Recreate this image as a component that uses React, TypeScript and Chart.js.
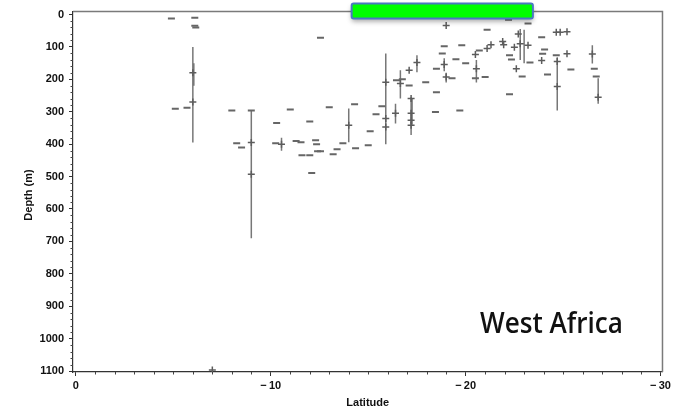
import React, { useEffect, useRef } from 'react';
import { Chart, registerables } from 'chart.js';

Chart.register(...registerables);

// Horizontal dash markers (latitude, depth m)
const dashLat = [-4.9, -6.1, -6.1, -6.15, -5.1, -5.7, -8.0, -8.25, -8.5, -10.3, -10.25, -11.0, -11.3, -11.55, -11.6, -12.0, -12.0, -12.1, -12.3, -12.35, -12.4, -12.55, -12.55, -13.0, -13.2, -13.4, -13.7, -14.3, -14.35, -15.0, -15.1, -15.4, -15.7, -16.45, -16.75, -17.1, -17.95, -18.5, -18.45, -19.7, -18.9, -19.8, -18.8, -19.5, -18.5, -19.3, -20.0, -20.5, -20.7, -21.0, -21.1, -22.2, -23.2, -23.9, -22.25, -22.35, -23.3, -22.9, -22.25, -23.95, -24.05, -24.2, -24.65, -25.4, -26.6, -26.7, -9.0];
const dashDepth = [12, 10, 35, 40, 291, 288, 296, 397, 410, 335, 397, 293, 390, 394, 434, 330, 434, 489, 388, 400, 422, 422, 72, 286, 431, 416, 397, 277, 413, 403, 360, 308, 283, 203, 200, 219, 209, 240, 301, 296, 98, 95, 120, 138, 167, 197, 150, 197, 111, 193, 47, 16, 28, 70, 126, 139, 148, 191, 246, 121, 108, 185, 126, 170, 167, 191, 296];

// "+" markers (latitude, depth m)
const crossLat = [-6.0, -6.0, -9.0, -9.0, -7.0, -10.55, -14.0, -15.9, -15.9, -15.9, -16.4, -16.65, -17.1, -17.2, -17.2, -17.2, -17.2, -17.5, -19.0, -18.9, -19.0, -20.5, -20.55, -21.1, -21.3, -21.9, -21.95, -22.6, -22.5, -22.8, -22.7, -23.2, -23.9, -24.65, -24.85, -25.2, -24.7, -24.7, -25.2, -26.5, -26.8];
const crossDepth = [180, 270, 395, 493, 1097, 400, 342, 209, 321, 347, 305, 213, 172, 259, 305, 326, 342, 148, 34, 154, 193, 123, 167, 105, 93, 83, 93, 167, 101, 90, 60, 95, 142, 55, 55, 53, 145, 222, 121, 122, 255];

// Vertical error bars (latitude, shallow end, deep end)
const barLat = [-6.0, -6.0, -6.05, -9.0, -10.55, -14.0, -15.9, -16.4, -16.65, -17.2, -17.25, -17.5, -18.9, -19.0, -20.55, -22.8, -23.0, -24.7, -26.5, -26.8];
const barLow = [100, 140, 150, 296, 380, 290, 120, 275, 172, 255, 260, 126, 135, 180, 140, 45, 47, 132, 95, 197];
const barHigh = [395, 230, 220, 690, 420, 394, 400, 336, 259, 372, 340, 178, 175, 210, 210, 140, 150, 296, 151, 275];

const xTicks = [0, -10, -20, -30];
const yTicks = [0, 100, 200, 300, 400, 500, 600, 700, 800, 900, 1000, 1100];

// Highlight band along the top (latitude range)
const bandLat = [-14.15, -23.45];

const labelText = 'West Africa';

const overlay = {
  id: 'overlay',
  beforeDatasetsDraw(chart: any) {
    const { ctx, scales, chartArea } = chart;
    const x = scales.x, y = scales.y;
    ctx.save();
    // frame top & right
    ctx.strokeStyle = '#7a7a7a';
    ctx.lineWidth = 1.5;
    ctx.beginPath();
    ctx.moveTo(chartArea.left, chartArea.top);
    ctx.lineTo(chartArea.right, chartArea.top);
    ctx.lineTo(chartArea.right, chartArea.bottom);
    ctx.stroke();
    // minor ticks
    ctx.strokeStyle = '#444';
    ctx.lineWidth = 1;
    ctx.beginPath();
    for (let v = 0; v >= -30; v -= 1) {
      if (v % 10 === 0) continue;
      const px = Math.round(x.getPixelForValue(v)) + 0.5;
      ctx.moveTo(px, chartArea.bottom);
      ctx.lineTo(px, chartArea.bottom + 2.5);
    }
    for (let v = 0; v <= 1100; v += 20) {
      if (v % 100 === 0) continue;
      const py = Math.round(y.getPixelForValue(v)) + 0.5;
      ctx.moveTo(chartArea.left, py);
      ctx.lineTo(chartArea.left - 2.5, py);
    }
    ctx.stroke();
    // error bars
    ctx.strokeStyle = '#777';
    ctx.lineWidth = 1.5;
    ctx.beginPath();
    for (let i = 0; i < barLat.length; i++) {
      const px = x.getPixelForValue(barLat[i]);
      ctx.moveTo(px, y.getPixelForValue(barLow[i]));
      ctx.lineTo(px, y.getPixelForValue(barHigh[i]));
    }
    ctx.stroke();
    ctx.restore();
  },
  afterDraw(chart: any) {
    const { ctx, scales, chartArea } = chart;
    const x = scales.x, y = scales.y;
    ctx.save();
    // axis titles
    ctx.fillStyle = '#111';
    ctx.font = 'bold 11px "Liberation Sans", Arial, sans-serif';
    ctx.textAlign = 'center';
    ctx.textBaseline = 'middle';
    ctx.fillText('Latitude', (chartArea.left + chartArea.right) / 2, 403);
    ctx.save();
    ctx.translate(29, 195);
    ctx.rotate(-Math.PI / 2);
    ctx.fillText('Depth (m)', 0, 0);
    ctx.restore();
    // region label
    ctx.font = '600 29px "Open Sans", sans-serif';
    const w = ctx.measureText(labelText).width;
    ctx.save();
    ctx.translate(480, 333);
    ctx.scale(143 / w, 1);
    ctx.textAlign = 'left';
    ctx.textBaseline = 'alphabetic';
    ctx.fillStyle = '#111';
    ctx.fillText(labelText, 0, 0);
    ctx.restore();
    // green band
    const x1 = x.getPixelForValue(bandLat[0]);
    const x2 = x.getPixelForValue(bandLat[1]);
    const top = y.getPixelForValue(-34);
    const bot = y.getPixelForValue(12);
    ctx.save();
    ctx.shadowColor = 'rgba(0,0,0,0.35)';
    ctx.shadowBlur = 5;
    ctx.shadowOffsetY = 3;
    ctx.fillStyle = '#00ff00';
    ctx.beginPath();
    ctx.roundRect(x1, top, x2 - x1, bot - top, 2);
    ctx.fill();
    ctx.restore();
    ctx.strokeStyle = '#4a78c0';
    ctx.lineWidth = 2;
    ctx.beginPath();
    ctx.roundRect(x1, top, x2 - x1, bot - top, 2);
    ctx.stroke();
    ctx.restore();
  },
};

export default function App() {
  const ref = useRef<HTMLCanvasElement>(null);
  useEffect(() => {
    const canvas = ref.current!;
    const chart = new Chart(canvas, {
      type: 'scatter',
      data: {
        datasets: [
          {
            data: dashLat.map((v, i) => ({ x: v, y: dashDepth[i] })),
            pointStyle: 'line',
            radius: 3.5,
            borderWidth: 2,
            borderColor: '#666',
            backgroundColor: '#666',
          },
          {
            data: crossLat.map((v, i) => ({ x: v, y: crossDepth[i] })),
            pointStyle: 'cross',
            radius: 3.5,
            borderWidth: 1.5,
            borderColor: '#5c5c5c',
            backgroundColor: '#5c5c5c',
          },
        ],
      },
      options: {
        animation: false,
        responsive: false,
        maintainAspectRatio: false,
        layout: { padding: { left: 0, right: 11, top: 11, bottom: 0 } },
        plugins: { legend: { display: false }, tooltip: { enabled: false } },
        scales: {
          x: {
            type: 'linear',
            reverse: true,
            min: -30.1,
            max: 0.15,
            afterBuildTicks: (s: any) => { s.ticks = xTicks.map((v) => ({ value: v })); },
            afterFit: (s: any) => { s.height = 38; },
            grid: { drawOnChartArea: false, drawTicks: true, tickLength: 4, color: '#333' },
            border: { display: true, color: '#333', width: 1.2 },
            ticks: {
              padding: 3,
              color: '#111',
              font: { family: '"Liberation Sans", Arial, sans-serif', size: 11, weight: 'bold' },
              maxRotation: 0,
              callback: (v: any) => (v === 0 ? '0' : '\u2212\u2009' + Math.abs(v)),
            },
          },
          y: {
            type: 'linear',
            reverse: true,
            min: -9,
            max: 1103,
            afterBuildTicks: (s: any) => { s.ticks = yTicks.map((v) => ({ value: v })); },
            afterFit: (s: any) => { s.width = 73; },
            grid: { drawOnChartArea: false, drawTicks: true, tickLength: 4, color: '#333' },
            border: { display: true, color: '#333', width: 1.2 },
            ticks: {
              padding: 5,
              color: '#111',
              font: { family: '"Liberation Sans", Arial, sans-serif', size: 11, weight: 'bold' },
              callback: (v: any) => String(v),
            },
          },
        },
      },
      plugins: [overlay],
    } as any);
    return () => chart.destroy();
  }, []);
  return (
    <canvas
      ref={ref}
      width={674}
      height={410}
      style={{ position: 'fixed', left: 0, top: 0, width: 674, height: 410, background: '#fff' }}
    />
  );
}
